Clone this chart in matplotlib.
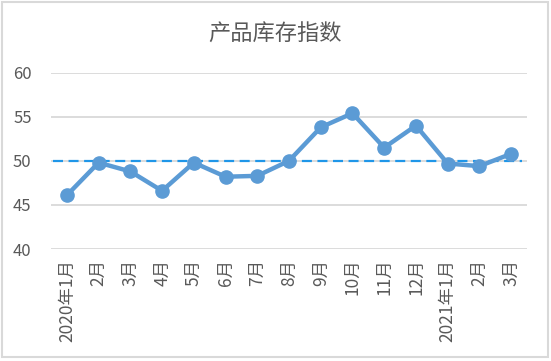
import matplotlib.pyplot as plt
from matplotlib.patches import Rectangle

plt.rcParams['font.family'] = ['Noto Sans CJK SC', 'DejaVu Sans']

# 月份标签和指数值（从图上读出来的）
meses = ['2020年1月', '2月', '3月', '4月', '5月', '6月', '7月', '8月',
         '9月', '10月', '11月', '12月', '2021年1月', '2月', '3月']
indice = [46.1, 49.8, 48.8, 46.6, 49.8, 48.2, 48.3, 50.0,
          53.8, 55.4, 51.5, 54.0, 49.7, 49.4, 50.8]
linha_ref = 50
y_ticks = [40, 45, 50, 55, 60]

cor_texto = '#595959'

fig = plt.figure(figsize=(5.51, 3.61), dpi=100)
ax = fig.add_axes([0.0926, 0.3102, 0.8638, 0.4884])

x = list(range(len(meses)))

# grade horizontal
for v in y_ticks:
    ax.axhline(v, color='#d9d9d9', lw=1.3, zorder=1)

# linha de referencia 50 tracejada
ax.axhline(linha_ref, xmin=0.005, xmax=0.99, color='#1f96e8', lw=1.6,
           dashes=(4.5, 2.5), zorder=2)

ax.plot(x, indice, color='#5b9bd5', lw=3.2, marker='o', ms=9.5,
        solid_capstyle='round', zorder=3)

ax.set_xlim(-0.5, len(meses) - 0.5)
ax.set_ylim(40, 60)
ax.set_yticks(y_ticks)
ax.set_xticks(x)
ax.set_xticklabels(meses, rotation=90, fontsize=12.5, color=cor_texto, va='top')
ax.tick_params(axis='y', labelsize=12, labelcolor=cor_texto, length=0, pad=14)
ax.tick_params(axis='x', length=0, pad=7)
for s in ax.spines.values():
    s.set_visible(False)

fig.text(0.5, 0.905, '产品库存指数', ha='center', va='center',
         fontsize=16, color=cor_texto)

# borda cinza em volta do grafico
fig.patches.append(Rectangle((0.004, 0.01), 0.99, 0.985, transform=fig.transFigure,
                             fill=False, edgecolor='#d9d9d9', lw=1.5))

fig.savefig('out.png', dpi=100)
